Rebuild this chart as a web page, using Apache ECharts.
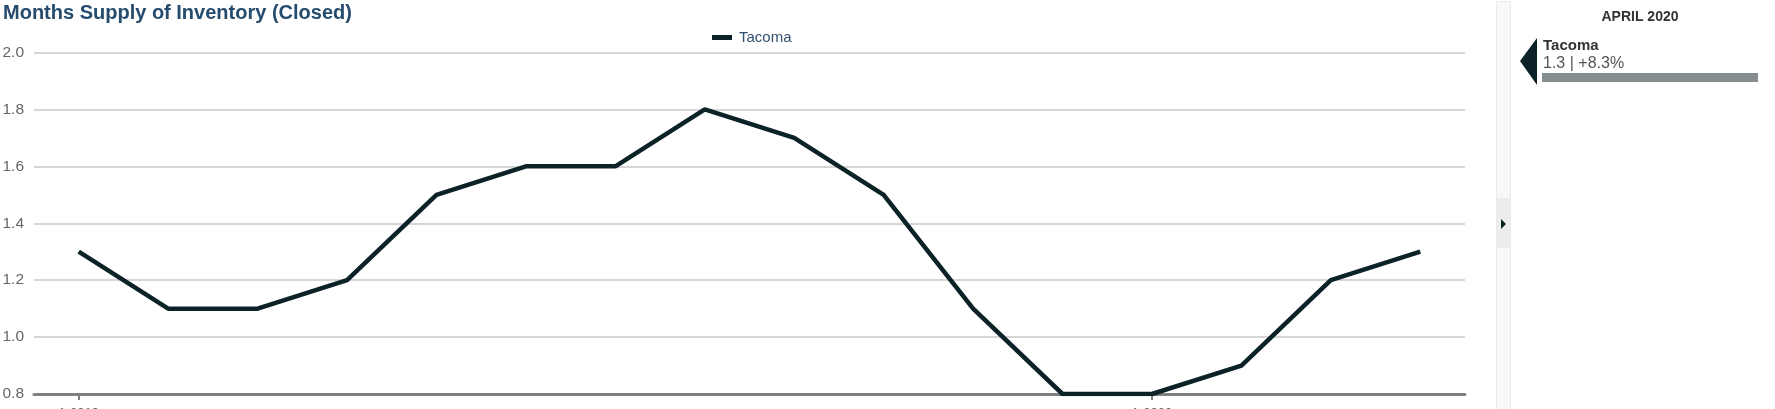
<!DOCTYPE html>
<html>
<head>
<meta charset="utf-8">
<script src="https://cdn.jsdelivr.net/npm/echarts@6/dist/echarts.min.js"></script>
<style>
html,body{margin:0;padding:0;background:#fff;}
#c{width:1775px;height:409px;}
</style>
</head>
<body>
<div id="c"></div>
<script>
const titleText = "Months Supply of Inventory (Closed)";
const seriesName = "Tacoma";
const months = ["1-2019","2-2019","3-2019","4-2019","5-2019","6-2019","7-2019","8-2019","9-2019","10-2019","11-2019","12-2019","1-2020","2-2020","3-2020","4-2020"];
const values = [1.3, 1.1, 1.1, 1.2, 1.5, 1.6, 1.6, 1.8, 1.7, 1.5, 1.1, 0.8, 0.8, 0.9, 1.2, 1.3];
const yMin = 0.8, yMax = 2.0, yStep = 0.2;
const panelMonth = "APRIL 2020";
const panelValue = "1.3 | +8.3%";

const chart = echarts.init(document.getElementById('c'), null, {renderer:'canvas'});
const dark = '#0b2227';
chart.setOption({
  animation: false,
  backgroundColor: '#fff',
  title: {
    text: titleText, left: 3, top: 3, padding: 0,
    textStyle: {fontFamily: 'Arial, Liberation Sans', fontWeight: 'bold', fontSize: 20, color: '#254b6e'}
  },
  legend: {
    data: [{name: seriesName, icon: 'rect'}],
    left: 712, top: 30, padding: 0, itemWidth: 20, itemHeight: 5, itemGap: 8,
    textStyle: {fontFamily: 'Arial, Liberation Sans', fontSize: 15, color: '#34506e', padding: [0,0,0,2]}
  },
  grid: {left: 34, right: 310, top: 52.5, bottom: 15, containLabel: false, outerBoundsMode: 'none'},
  xAxis: {
    type: 'category', data: months, boundaryGap: true,
    axisLine: {lineStyle: {color: '#808080', width: 3}},
    axisTick: {show: true, alignWithLabel: true, length: 6, lineStyle: {color: '#808080', width: 2},
      interval: (i) => i % 12 === 0},
    axisLabel: {interval: (i) => i % 12 === 0, margin: 13, fontFamily: 'Arial, Liberation Sans', fontSize: 13, color: '#666'},
    splitLine: {show: false}
  },
  yAxis: {
    type: 'value', min: yMin, max: yMax, interval: yStep,
    axisLine: {show: false}, axisTick: {show: false},
    axisLabel: {margin: 10, fontFamily: 'Arial, Liberation Sans', fontSize: 15.5, color: '#666', formatter: v => v.toFixed(1)},
    splitLine: {lineStyle: {color: '#c8c8c8', width: 1.5}}
  },
  series: [{
    name: seriesName, type: 'line', data: values, showSymbol: false, symbol: 'none',
    lineStyle: {color: dark, width: 4.5}, itemStyle: {color: dark}, z: 3
  }],
  graphic: [
    {type: 'rect', shape: {x: 1496.5, y: 1.5, width: 14, height: 420}, style: {fill: '#f8f8f8', stroke: '#ebebeb', lineWidth: 1}},
    {type: 'rect', shape: {x: 1497, y: 198, width: 13, height: 50}, style: {fill: '#ececec'}},
    {type: 'polygon', shape: {points: [[1501,219],[1506,224],[1501,229]]}, style: {fill: dark}},
    {type: 'text', x: 1640, y: 10, style: {text: panelMonth, align: 'center', fill: '#333', font: 'bold 14px Arial, Liberation Sans'}},
    {type: 'polygon', shape: {points: [[1537,38],[1520,61],[1537,85]]}, style: {fill: dark}},
    {type: 'text', x: 1543, y: 38, style: {text: seriesName, fill: '#333', font: 'bold 15px Arial, Liberation Sans'}},
    {type: 'text', x: 1543, y: 56, style: {text: panelValue, fill: '#555', font: '16px Arial, Liberation Sans'}},
    {type: 'rect', shape: {x: 1542, y: 73, width: 216, height: 9}, style: {fill: '#858d8f'}}
  ]
});
</script>
</body>
</html>
